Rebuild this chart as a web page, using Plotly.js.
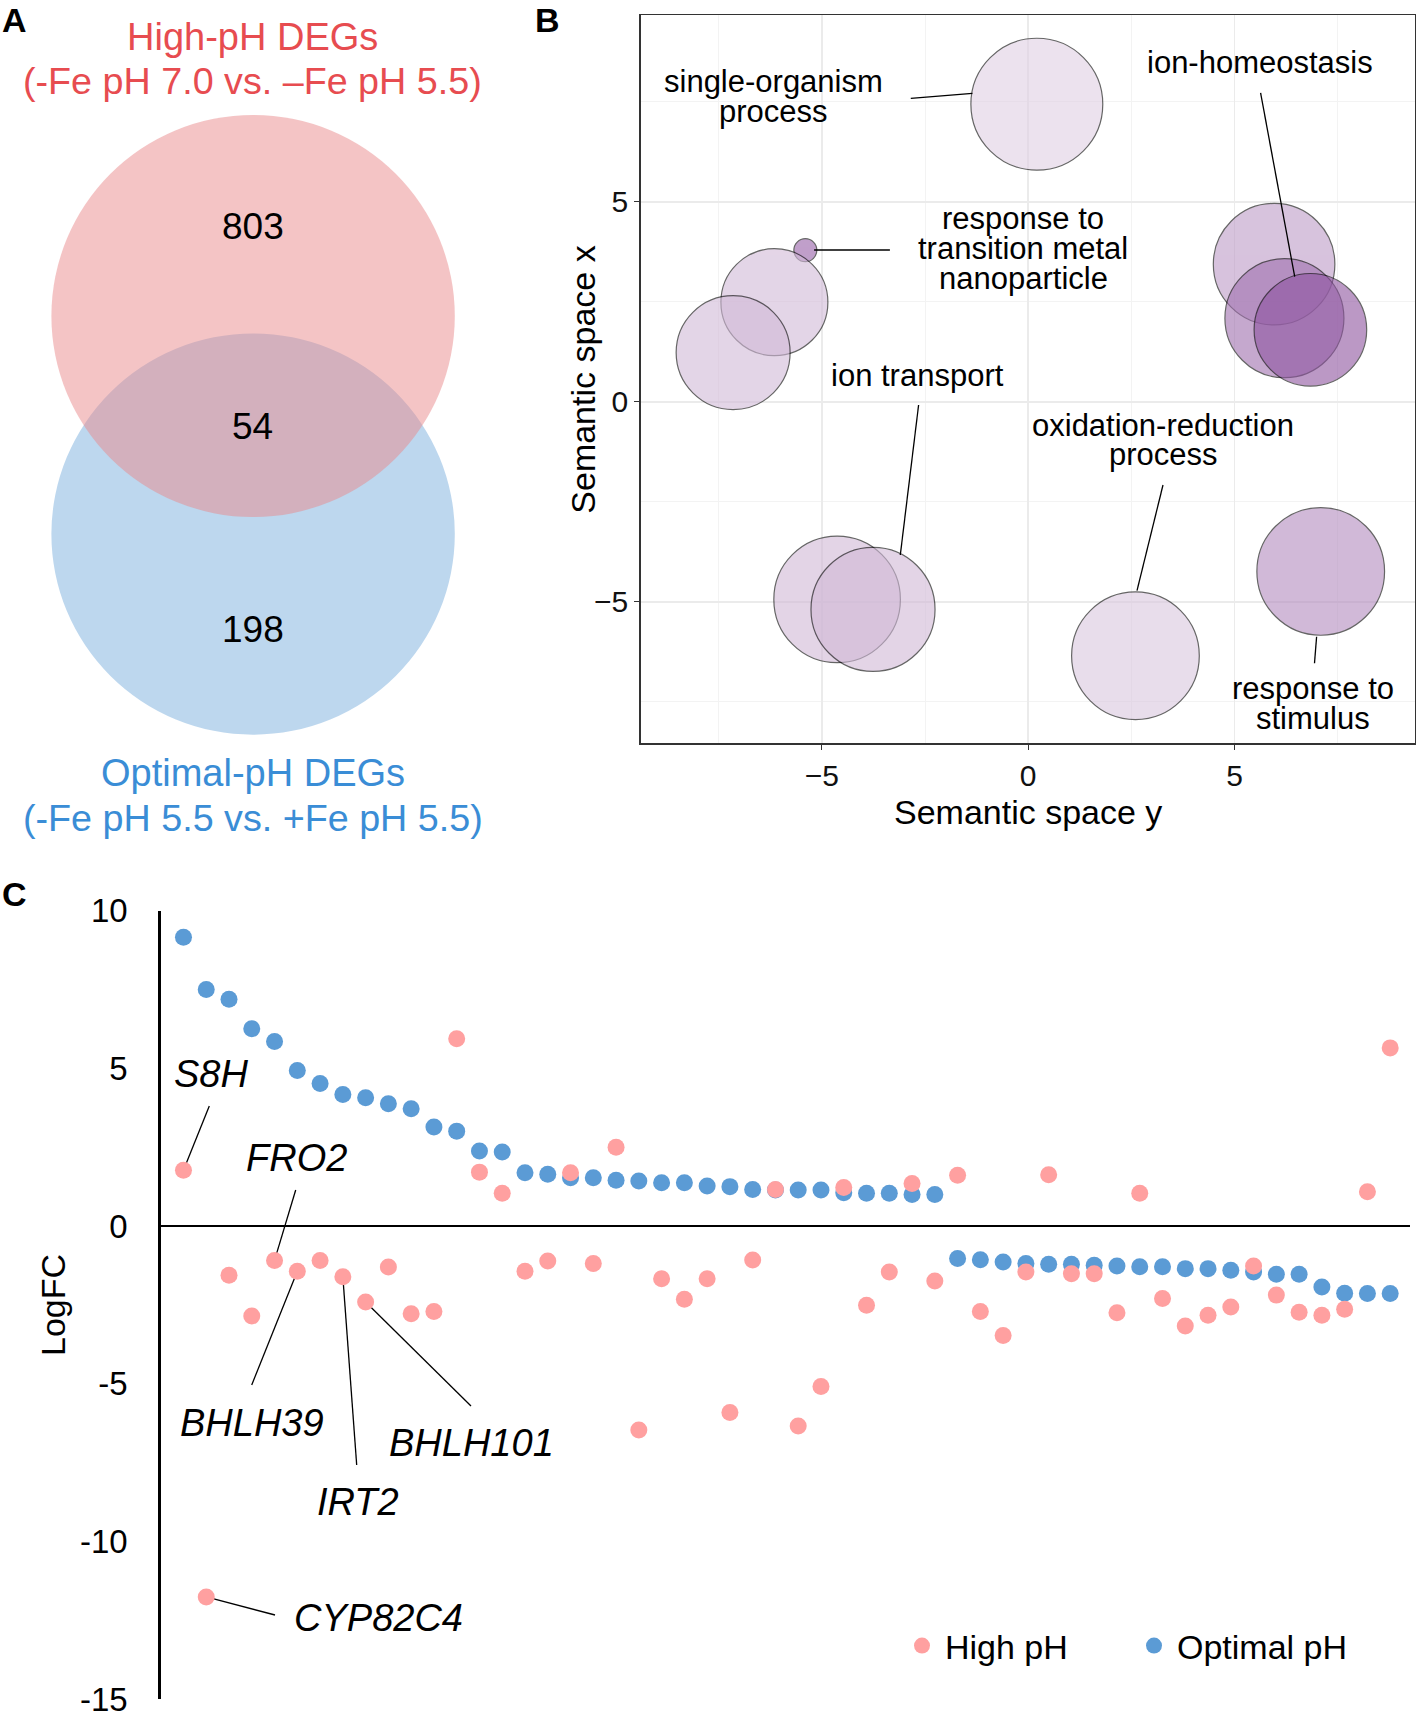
<!DOCTYPE html>
<html>
<head>
<meta charset="utf-8">
<script src="https://cdn.plot.ly/plotly-3.0.1.min.js"></script>
<style>
  html, body { margin: 0; padding: 0; background: #fff; }
  #chart { width: 1418px; height: 1714px; }
</style>
</head>
<body>
<div id="chart"></div>
<script>
/* ============================================================
   Fe / pH DEG figure — Venn, REVIGO bubbles, LogFC scatter
   ============================================================ */

// ── Panel A: Venn counts ──────────────────────────────────────
const vennTitles    = ["High-pH DEGs", "Optimal-pH DEGs"];
const vennSubtitles = ["(-Fe pH 7.0 vs. \u2013Fe pH 5.5)", "(-Fe pH 5.5 vs. +Fe pH 5.5)"];
const vennCounts    = [803, 54, 198];   // high-pH only, shared, optimal-pH only

// ── Panel B: REVIGO semantic space ────────────────────────────
const goTerms = [
  "single-organism process",
  "response to transition metal nanoparticle",
  "", "", "", "ion-homeostasis", "",
  "ion transport", "",
  "oxidation-reduction process",
  "response to stimulus",
];
const semSpaceY = [0.21, -5.40, -6.15, -7.15, 5.96, 6.21, 6.84, -4.63, -3.76, 2.60, 7.09];
const semSpaceX = [7.44, 3.79, 2.49, 1.23, 3.44, 2.09, 1.80, -4.94, -5.19, -6.35, -4.24];
const logSize   = [4.71, 0.82, 3.82, 4.07, 4.34, 4.25, 4.02, 4.52, 4.43, 4.56, 4.56];
const log10P    = [-2.0, -5.6, -2.7, -2.7, -3.7, -5.1, -6.0, -2.75, -2.75, -2.3, -4.2];

// ── Panel C: LogFC of the 54 shared DEGs ──────────────────────
const optimalPH = [
  9.16, 7.50, 7.19, 6.26, 5.85, 4.93, 4.52, 4.17, 4.07, 3.88,
  3.72, 3.14, 3.01, 2.38, 2.35, 1.69, 1.64, 1.53, 1.53, 1.45,
  1.43, 1.37, 1.37, 1.27, 1.25, 1.16, 1.14, 1.14, 1.14, 1.06,
  1.04, 1.04, 1.00, 1.00, -1.03, -1.07, -1.14, -1.19, -1.21, -1.21,
  -1.24, -1.27, -1.29, -1.29, -1.35, -1.35, -1.40, -1.46, -1.53, -1.53,
  -1.93, -2.13, -2.14, -2.14,
];
const highPH = [
  1.77, -11.76, -1.56, -2.85, -1.09, -1.43, -1.09, -1.61, -2.41, -1.30,
  -2.78, -2.71, 5.94, 1.71, 1.04, -1.43, -1.11, 1.69, -1.19, 2.50,
  -6.47, -1.67, -2.32, -1.67, -5.91, -1.08, 1.16, -6.34, -5.09, 1.22,
  -2.51, -1.46, 1.35, -1.74, 1.61, -2.71, -3.47, -1.46, 1.63, -1.51,
  -1.51, -2.75, 1.04, -2.30, -3.17, -2.83, -2.57, -1.27, -2.19, -2.73,
  -2.83, -2.64, 1.09, 5.65,
];
const geneNames = ["S8H", "CYP82C4", "FRO2", "BHLH39", "IRT2", "BHLH101"];
const geneRanks = [1, 2, 5, 6, 8, 9];
const logFcTicks = [10, 5, 0, -5, -10, -15];
const logFcTickText = ["10", "5", "0", "-5", "-10", "-15"];

// ── Page geometry (pixels) ────────────────────────────────────
const W = 1418, H = 1714;
const FONT = '"Liberation Sans", Arial, Helvetica, sans-serif';
const px = x => x / W;
const py = y => 1 - y / H;

// panel C plot box and ranges
const C_LEFT = 160.7, C_RIGHT = 1410, C_TOP = 910.7, C_BOTTOM = 1699.4;
const C_XR = [0, 54.87], C_YR = [-15.01, 10];
// panel B plot box and ranges
const B_LEFT = 640.7, B_RIGHT = 1414.8, B_TOP = 15, B_BOTTOM = 743;
const B_XR = [-9.39, 9.37], B_YR = [-8.53, 9.67];

// pixel -> panel C data coords (for label ends of leader lines)
const cx = x => C_XR[0] + (x - C_LEFT) / (C_RIGHT - C_LEFT) * (C_XR[1] - C_XR[0]);
const cy = y => C_YR[1] - (y - C_TOP) / (C_BOTTOM - C_TOP) * (C_YR[1] - C_YR[0]);

const rank = highPH.map((_, i) => i + 1);

function txt(text, x, y, size, extra) {
  return Object.assign({
    text, x: px(x), y: py(y), xref: "paper", yref: "paper",
    xanchor: "center", yanchor: "middle", showarrow: false,
    font: { family: FONT, size, color: "#000" },
  }, extra || {});
}
function colored(size, color) {
  return { font: { family: FONT, size, color } };
}
function seg(x0, y0, x1, y1, ref) {
  return {
    type: "line", x0, y0, x1, y1,
    xref: ref ? ref[0] : "paper", yref: ref ? ref[1] : "paper",
    line: { color: "#000", width: 1.3 },
  };
}

// ── Traces ────────────────────────────────────────────────────
const traces = [
  {
    name: "Optimal pH", legend: "legend2",
    x: rank, y: optimalPH, xaxis: "x", yaxis: "y",
    type: "scatter", mode: "markers",
    marker: { size: 17, color: "#5b9bd5" },
    hoverinfo: "y",
  },
  {
    name: "High pH", legend: "legend",
    x: rank, y: highPH, xaxis: "x", yaxis: "y",
    type: "scatter", mode: "markers",
    marker: { size: 17, color: "#ffa0a0" },
    hoverinfo: "y",
  },
  {
    name: "GO terms", showlegend: false,
    x: semSpaceY, y: semSpaceX, xaxis: "x2", yaxis: "y2",
    text: goTerms, hoverinfo: "text",
    type: "scatter", mode: "markers",
    marker: {
      size: logSize, sizemode: "diameter", sizeref: 1 / 28,
      color: log10P, cmin: -6, cmax: -2,
      colorscale: [[0, "rgb(142,84,160)"], [1, "rgb(224,208,228)"]],
      opacity: 0.6,
      line: { color: "#000", width: 1.2 },
    },
  },
];

// ── Annotations ───────────────────────────────────────────────
const RED = "#e74c50", BLUE = "#3a8dd6";
const LB = 31;   // panel B label size
const annotations = [
  // panel letters
  txt("<b>A</b>", 15, 20, 34),
  txt("<b>B</b>", 547, 20, 34),
  txt("<b>C</b>", 14, 894, 34),

  // panel A
  txt(vennTitles[0], 252.5, 37, 38, colored(38, RED)),
  txt(vennSubtitles[0], 252.5, 81, 37.7, colored(37.7, RED)),
  txt(vennTitles[1], 252.5, 773, 38, colored(38, BLUE)),
  txt(vennSubtitles[1], 252.5, 818, 37.7, colored(37.7, BLUE)),
  txt(String(vennCounts[0]), 252.5, 226, 37),
  txt(String(vennCounts[1]), 252.5, 426, 37),
  txt(String(vennCounts[2]), 252.5, 629, 37),

  // panel B labels
  txt("single-organism", 773.7, 81.7, LB),
  txt("process", 773.7, 111.7, LB),
  txt("response to", 1023, 218.3, LB),
  txt("transition metal", 1023, 248.3, LB),
  txt("nanoparticle", 1023, 278.3, LB),
  txt("ion-homeostasis", 1259.5, 62.5, LB),
  txt("ion transport", 917.5, 375, LB),
  txt("oxidation-reduction", 1163, 425, LB),
  txt("process", 1163, 455, LB),
  txt("response to", 1313, 688.3, LB),
  txt("stimulus", 1313, 718.3, LB),
  txt("Semantic space y", 1028.3, 812, 34),
  txt("Semantic space x", 582.7, 380, 34, { textangle: -90 }),

  // panel C
  txt("LogFC", 53, 1305, 34, { textangle: -90 }),
];

const geneLabelPos = [
  [210.8, 1074], [378.3, 1617.5], [296.5, 1158],
  [252, 1422.5], [358.3, 1501.7], [471.7, 1442.5],
];
geneNames.forEach((g, i) => {
  annotations.push(txt("<i>" + g + "</i>", geneLabelPos[i][0], geneLabelPos[i][1], 38));
});

// ── Shapes: Venn circles + leader lines ───────────────────────
const shapes = [
  { type: "circle", xref: "paper", yref: "paper", layer: "below",
    x0: px(51.4), x1: px(454.8), y0: py(734.7), y1: py(333.5),
    fillcolor: "rgba(123,175,221,0.5)", line: { width: 0 } },
  { type: "circle", xref: "paper", yref: "paper", layer: "below",
    x0: px(51.4), x1: px(454.8), y0: py(517), y1: py(115),
    fillcolor: "rgba(233,137,139,0.5)", line: { width: 0 } },

  // panel B leader lines
  seg(px(910.8), py(98.3), px(972.4), py(93.3)),
  seg(px(814.1), py(250), px(889.9), py(250)),
  seg(px(1260.6), py(92.9), px(1294.7), py(276.7)),
  seg(px(918.6), py(405), px(900.3), py(555)),
  seg(px(1163), py(485), px(1137), py(590.7)),
  seg(px(1316.6), py(636.7), px(1314.5), py(663.3)),
];

// panel C leader lines: from the gene's High-pH point to its label
const geneLineEnd = [
  [209.3, 1106], [275, 1615], [295.7, 1190],
  [251.7, 1385], [356.7, 1465], [471, 1406],
];
geneRanks.forEach((r, i) => {
  const s = seg(r, highPH[r - 1], cx(geneLineEnd[i][0]), cy(geneLineEnd[i][1]), ["x", "y"]);
  s.layer = "below";
  shapes.push(s);
});

// ── Layout ────────────────────────────────────────────────────
const semAxis = {
  dtick: 5, tick0: 0,
  ticks: "outside", ticklen: 5, tickwidth: 1.3, tickcolor: "#333",
  showline: true, mirror: true, linecolor: "#333", linewidth: 1.5,
  showgrid: true, gridcolor: "#ebebeb", gridwidth: 1.5,
  minor: { dtick: 2.5, showgrid: true, gridcolor: "#f3f3f3", gridwidth: 1 },
  zeroline: false,
  tickfont: { family: FONT, size: 30, color: "#111" },
};

const legendBase = {
  y: py(1646), xanchor: "left", yanchor: "middle",
  orientation: "h", bgcolor: "rgba(0,0,0,0)", itemwidth: 36,
  font: { family: FONT, size: 34, color: "#000" },
};

const layout = {
  width: W, height: H,
  margin: { l: 0, r: 0, t: 0, b: 0 },
  paper_bgcolor: "#fff", plot_bgcolor: "rgba(0,0,0,0)",
  font: { family: FONT, color: "#000" },
  xaxis: {
    domain: [px(C_LEFT), px(C_RIGHT)], range: C_XR, anchor: "y",
    visible: false,
  },
  yaxis: {
    domain: [py(C_BOTTOM), py(C_TOP)], range: C_YR, anchor: "x",
    tickvals: logFcTicks, ticktext: logFcTickText,
    ticklabeloverflow: "allow",
    showline: true, linecolor: "#000", linewidth: 2.5,
    zeroline: true, zerolinecolor: "#000", zerolinewidth: 2.5,
    showgrid: false,
    ticks: "outside", ticklen: 24, tickcolor: "rgba(0,0,0,0)",
    tickfont: { family: FONT, size: 33, color: "#000" },
  },
  xaxis2: Object.assign({}, semAxis, {
    domain: [px(B_LEFT), px(B_RIGHT)], range: B_XR, anchor: "y2",
  }),
  yaxis2: Object.assign({}, semAxis, {
    domain: [py(B_BOTTOM), py(B_TOP)], range: B_YR, anchor: "x2",
  }),
  legend: Object.assign({ x: px(899) }, legendBase),
  legend2: Object.assign({ x: px(1131) }, legendBase),
  annotations,
  shapes,
  showlegend: true,
};

Plotly.newPlot("chart", traces, layout, { displayModeBar: false, staticPlot: true });
</script>
</body>
</html>
